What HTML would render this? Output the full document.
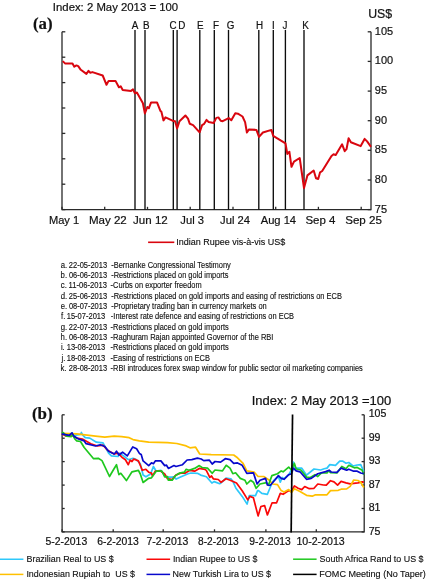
<!DOCTYPE html>
<html><head><meta charset="utf-8"><title>Figure</title>
<style>
html,body{margin:0;padding:0;background:#fff;}
body{width:427px;height:580px;overflow:hidden;font-family:"Liberation Sans",sans-serif;}
svg{display:block;will-change:transform;}
text{font-family:"Liberation Sans",sans-serif;fill:#111;stroke:#111;stroke-width:.2px;}
.n{stroke-width:.14px;}
.ser{font-family:"Liberation Serif",serif;font-weight:bold;}
</style></head><body>
<svg width="427" height="580" viewBox="0 0 427 580">
<rect width="427" height="580" fill="#fff"/>

<text transform="translate(52.85,10.90) scale(0.9794,1)" font-size="11.6" xml:space="preserve">Index: 2 May 2013 = 100</text>
<text transform="translate(368.16,17.80) scale(1.0282,1)" font-size="12.0" xml:space="preserve">US$</text>
<text class="ser" transform="translate(32.89,28.80) scale(1.0513,1)" font-size="16" xml:space="preserve">(a)</text>
<g stroke="#2a2a2a" stroke-width="1.3" fill="none">
<path d="M62.0,31.8 V209.6 H371.0 V31.8"/>
<path d="M62.0,31.8 h3.3"/>
<path d="M62.0,57.2 h3.3"/>
<path d="M62.0,82.6 h3.3"/>
<path d="M62.0,108.0 h3.3"/>
<path d="M62.0,133.4 h3.3"/>
<path d="M62.0,158.8 h3.3"/>
<path d="M62.0,184.2 h3.3"/>
<path d="M62.0,209.6 h3.3"/>
<path d="M371.0,31.8 h-3.3"/>
<path d="M371.0,61.4 h-3.3"/>
<path d="M371.0,91.1 h-3.3"/>
<path d="M371.0,120.7 h-3.3"/>
<path d="M371.0,150.3 h-3.3"/>
<path d="M371.0,180.0 h-3.3"/>
<path d="M371.0,209.6 h-3.3"/>
<path d="M62.0,209.6 v-2.8"/>
<path d="M104.7,209.6 v-2.8"/>
<path d="M147.5,209.6 v-2.8"/>
<path d="M190.2,209.6 v-2.8"/>
<path d="M233.0,209.6 v-2.8"/>
<path d="M275.7,209.6 v-2.8"/>
<path d="M318.4,209.6 v-2.8"/>
<path d="M361.2,209.6 v-2.8"/>
</g>
<g stroke="#0c0c0c" stroke-width="1.35">
<path d="M135.0,29.9 V209.6"/>
<path d="M145.0,29.9 V209.6"/>
<path d="M173.3,29.9 V209.6"/>
<path d="M177.1,29.9 V209.6"/>
<path d="M199.8,29.9 V209.6"/>
<path d="M214.3,29.9 V209.6"/>
<path d="M228.5,29.9 V209.6"/>
<path d="M258.8,29.9 V209.6"/>
<path d="M273.3,29.9 V209.6"/>
<path d="M285.4,29.9 V209.6"/>
<path d="M304.0,29.9 V209.6"/>
</g>
<text transform="translate(131.66,28.60) scale(0.9300,1)" font-size="10.6" xml:space="preserve">A</text>
<text transform="translate(143.11,28.60) scale(0.9300,1)" font-size="10.6" xml:space="preserve">B</text>
<text transform="translate(169.38,28.60) scale(0.9300,1)" font-size="10.6" xml:space="preserve">C</text>
<text transform="translate(178.16,28.60) scale(0.9300,1)" font-size="10.6" xml:space="preserve">D</text>
<text transform="translate(197.06,28.60) scale(0.9300,1)" font-size="10.6" xml:space="preserve">E</text>
<text transform="translate(212.88,28.60) scale(0.9300,1)" font-size="10.6" xml:space="preserve">F</text>
<text transform="translate(226.63,28.60) scale(0.9300,1)" font-size="10.6" xml:space="preserve">G</text>
<text transform="translate(256.03,28.60) scale(0.9300,1)" font-size="10.6" xml:space="preserve">H</text>
<text transform="translate(271.88,28.60) scale(0.9300,1)" font-size="10.6" xml:space="preserve">I</text>
<text transform="translate(282.53,28.60) scale(0.9300,1)" font-size="10.6" xml:space="preserve">J</text>
<text transform="translate(302.31,28.60) scale(0.9300,1)" font-size="10.6" xml:space="preserve">K</text>
<polyline points="62.7,61.1 65.3,63.6 72.5,63.6 74.3,66.7 76.4,65.4 78.2,66.2 80.8,69.8 86.4,73.9 88.5,70.9 90.3,72.7 92.4,72.1 102.7,75.5 106.5,84.8 108.6,80.9 115.5,80.9 118.9,87.3 120.7,86.3 122.7,89.9 131.0,90.9 133.0,89.4 134.9,93.3 136.9,92.5 142.9,103.2 144.9,113.5 147.3,107.0 148.8,108.3 151.1,102.4 157.0,102.4 160.4,110.9 161.4,111.7 163.5,120.4 165.5,117.4 172.5,120.7 175.1,121.2 177.1,128.4 179.5,121.2 185.4,115.5 188.0,118.6 189.8,123.8 193.1,125.1 199.6,132.3 202.1,125.1 204.2,123.8 206.5,119.9 208.6,122.0 213.7,123.0 216.3,117.9 218.4,117.4 220.7,120.7 222.7,121.2 228.7,118.1 231.3,120.3 235.3,113.2 237.9,113.7 242.5,116.5 245.1,122.2 246.9,132.5 249.0,129.4 256.4,129.9 259.0,136.9 262.9,132.5 271.4,129.9 273.2,135.9 285.5,143.3 287.3,153.9 289.4,151.8 291.5,166.8 294.0,161.6 299.7,158.0 304.0,188.0 307.4,175.4 313.7,170.5 316.0,178.3 318.2,179.0 320.1,172.3 322.2,171.0 331.5,156.0 333.6,154.3 335.7,155.1 342.1,144.3 344.7,151.2 346.5,149.2 348.6,138.3 350.9,142.2 360.7,146.1 364.6,138.9 367.1,141.4 371.0,146.8" fill="none" stroke="#d9060f" stroke-width="2" stroke-linejoin="round"/>
<text transform="translate(374.8,34.70) scale(0.955,1)" font-size="11.5">105</text>
<text transform="translate(374.8,64.33) scale(0.955,1)" font-size="11.5">100</text>
<text transform="translate(374.8,93.97) scale(0.955,1)" font-size="11.5">95</text>
<text transform="translate(374.8,123.60) scale(0.955,1)" font-size="11.5">90</text>
<text transform="translate(374.8,153.23) scale(0.955,1)" font-size="11.5">85</text>
<text transform="translate(374.8,182.87) scale(0.955,1)" font-size="11.5">80</text>
<text transform="translate(374.8,212.50) scale(0.955,1)" font-size="11.5">75</text>
<text transform="translate(48.89,224.10) scale(0.9571,1)" font-size="11.6" xml:space="preserve">May 1</text>
<text transform="translate(88.95,224.10) scale(0.9941,1)" font-size="11.6" xml:space="preserve">May 22</text>
<text transform="translate(133.04,224.10) scale(0.9976,1)" font-size="11.6" xml:space="preserve">Jun 12</text>
<text transform="translate(180.34,224.10) scale(0.9644,1)" font-size="11.6" xml:space="preserve">Jul 3</text>
<text transform="translate(220.04,224.10) scale(0.9684,1)" font-size="11.6" xml:space="preserve">Jul 24</text>
<text transform="translate(260.68,224.10) scale(0.9637,1)" font-size="11.6" xml:space="preserve">Aug 14</text>
<text transform="translate(305.39,224.10) scale(0.9903,1)" font-size="11.6" xml:space="preserve">Sep 4</text>
<text transform="translate(345.19,224.10) scale(1.0001,1)" font-size="11.6" xml:space="preserve">Sep 25</text>
<path d="M148.1,242.3 H174.3" stroke="#d9060f" stroke-width="1.6"/>
<text class="n" transform="translate(176.27,245.20) scale(0.9678,1)" font-size="9.3" xml:space="preserve">Indian Rupee vis-à-vis US$</text>
<text class="n" transform="translate(60.77,267.80) scale(0.8000,1)" font-size="9.7" xml:space="preserve">a.</text>
<text class="n" transform="translate(68.83,267.80) scale(0.7716,1)" font-size="9.7" xml:space="preserve">22-05-2013</text>
<text class="n" transform="translate(111.17,267.80) scale(0.7706,1)" font-size="9.7" xml:space="preserve">-Bernanke Congressional Testimony</text>
<text class="n" transform="translate(60.60,278.12) scale(0.8000,1)" font-size="9.7" xml:space="preserve">b.</text>
<text class="n" transform="translate(68.92,278.12) scale(0.7697,1)" font-size="9.7" xml:space="preserve">06-06-2013</text>
<text class="n" transform="translate(111.17,278.12) scale(0.7626,1)" font-size="9.7" xml:space="preserve">-Restrictions placed on gold imports</text>
<text class="n" transform="translate(60.77,288.44) scale(0.8000,1)" font-size="9.7" xml:space="preserve">c.</text>
<text class="n" transform="translate(68.62,288.44) scale(0.7875,1)" font-size="9.7" xml:space="preserve">11-06-2013</text>
<text class="n" transform="translate(110.57,288.44) scale(0.7647,1)" font-size="9.7" xml:space="preserve">-Curbs on exporter freedom</text>
<text class="n" transform="translate(60.77,298.76) scale(0.8000,1)" font-size="9.7" xml:space="preserve">d.</text>
<text class="n" transform="translate(68.83,298.76) scale(0.7716,1)" font-size="9.7" xml:space="preserve">25-06-2013</text>
<text class="n" transform="translate(111.17,298.76) scale(0.7672,1)" font-size="9.7" xml:space="preserve">-Restrictions placed on gold imports and easing of restrictions on ECB</text>
<text class="n" transform="translate(60.77,309.08) scale(0.8000,1)" font-size="9.7" xml:space="preserve">e.</text>
<text class="n" transform="translate(68.92,309.08) scale(0.7697,1)" font-size="9.7" xml:space="preserve">08-07-2013</text>
<text class="n" transform="translate(111.17,309.08) scale(0.7676,1)" font-size="9.7" xml:space="preserve">-Proprietary trading ban in currency markets on</text>
<text class="n" transform="translate(60.99,319.40) scale(0.8000,1)" font-size="9.7" xml:space="preserve">f.</text>
<text class="n" transform="translate(66.73,319.40) scale(0.7756,1)" font-size="9.7" xml:space="preserve">15-07-2013</text>
<text class="n" transform="translate(110.87,319.40) scale(0.7670,1)" font-size="9.7" xml:space="preserve">-Interest rate defence and easing of restrictions on ECB</text>
<text class="n" transform="translate(60.77,329.72) scale(0.8000,1)" font-size="9.7" xml:space="preserve">g.</text>
<text class="n" transform="translate(68.83,329.72) scale(0.7716,1)" font-size="9.7" xml:space="preserve">22-07-2013</text>
<text class="n" transform="translate(110.57,329.72) scale(0.7665,1)" font-size="9.7" xml:space="preserve">-Restrictions placed on gold imports</text>
<text class="n" transform="translate(60.57,340.04) scale(0.8000,1)" font-size="9.7" xml:space="preserve">h.</text>
<text class="n" transform="translate(68.92,340.04) scale(0.7697,1)" font-size="9.7" xml:space="preserve">06-08-2013</text>
<text class="n" transform="translate(110.57,340.04) scale(0.7742,1)" font-size="9.7" xml:space="preserve">-Raghuram Rajan appointed Governor of the RBI</text>
<text class="n" transform="translate(60.89,350.36) scale(0.8000,1)" font-size="9.7" xml:space="preserve">i.</text>
<text class="n" transform="translate(66.73,350.36) scale(0.7756,1)" font-size="9.7" xml:space="preserve">13-08-2013</text>
<text class="n" transform="translate(110.57,350.36) scale(0.7665,1)" font-size="9.7" xml:space="preserve">-Restrictions placed on gold imports</text>
<text class="n" transform="translate(61.60,360.68) scale(0.8000,1)" font-size="9.7" xml:space="preserve">j.</text>
<text class="n" transform="translate(66.73,360.68) scale(0.7756,1)" font-size="9.7" xml:space="preserve">18-08-2013</text>
<text class="n" transform="translate(110.57,360.68) scale(0.7691,1)" font-size="9.7" xml:space="preserve">-Easing of restrictions on ECB</text>
<text class="n" transform="translate(60.59,371.00) scale(0.8000,1)" font-size="9.7" xml:space="preserve">k.</text>
<text class="n" transform="translate(68.83,371.00) scale(0.7716,1)" font-size="9.7" xml:space="preserve">28-08-2013</text>
<text class="n" transform="translate(110.57,371.00) scale(0.7656,1)" font-size="9.7" xml:space="preserve">-RBI introduces forex swap window for public sector oil marketing companies</text>
<text transform="translate(251.71,404.60) scale(1.0813,1)" font-size="12.0" xml:space="preserve">Index: 2 May 2013 =100</text>
<text class="ser" transform="translate(31.89,419.20) scale(1.0600,1)" font-size="16" xml:space="preserve">(b)</text>
<g stroke="#2a2a2a" stroke-width="1.3" fill="none">
<path d="M62.1,414.8 V531.9 H364.2 V414.8"/>
<path d="M62.1,414.8 h2.6"/>
<path d="M364.2,414.8 h-2.6"/>
<path d="M62.1,438.2 h2.6"/>
<path d="M364.2,438.2 h-2.6"/>
<path d="M62.1,461.6 h2.6"/>
<path d="M364.2,461.6 h-2.6"/>
<path d="M62.1,485.1 h2.6"/>
<path d="M364.2,485.1 h-2.6"/>
<path d="M62.1,508.5 h2.6"/>
<path d="M364.2,508.5 h-2.6"/>
<path d="M62.1,531.9 h2.6"/>
<path d="M364.2,531.9 h-2.6"/>
<path d="M62.1,531.9 v-2.6"/>
<path d="M113.2,531.9 v-2.6"/>
<path d="M163.2,531.9 v-2.6"/>
<path d="M214.5,531.9 v-2.6"/>
<path d="M265.9,531.9 v-2.6"/>
<path d="M316.3,531.9 v-2.6"/>
</g>
<polyline points="61.7,433.4 69.2,435.3 72.0,432.9 73.9,435.3 80.5,434.4 81.4,432.5 82.4,434.7 85.2,437.7 89.8,438.1 96.4,442.2 103.0,442.8 108.6,453.1 111.4,455.9 118.0,456.5 119.8,453.1 123.6,455.9 128.3,459.7 133.0,458.3 135.6,459.0 140.3,463.7 143.1,475.0 145.9,476.8 150.6,474.0 153.4,466.5 156.2,471.2 160.9,470.3 162.8,473.0 165.6,476.8 171.2,477.2 174.0,476.8 176.2,479.1 181.1,476.8 188.1,473.7 190.9,473.0 197.9,473.4 200.7,475.1 206.4,476.8 211.9,483.0 214.1,481.6 219.7,483.7 222.5,481.6 226.0,478.1 230.9,478.8 233.0,481.6 235.8,487.9 242.2,496.4 247.1,504.1 249.2,495.7 255.5,495.7 257.6,490.7 258.5,490.6 261.8,493.4 267.4,494.3 271.2,485.0 273.7,480.3 278.4,476.5 280.3,482.2 282.2,477.5 284.0,479.0 288.7,474.7 291.5,470.0 293.4,462.1 295.3,468.1 301.8,468.1 306.5,475.2 314.0,469.0 320.6,470.0 324.2,468.8 327.0,468.1 329.8,464.6 335.5,465.3 339.7,461.1 342.5,461.1 346.0,463.2 348.8,462.5 353.0,466.0 357.2,465.0 360.7,464.6 363.8,471.6" fill="none" stroke="#2ec8fa" stroke-width="1.7" stroke-linejoin="round"/>
<polyline points="61.7,433.8 66.4,436.2 72.0,435.3 76.7,438.1 82.4,439.0 90.8,443.7 97.3,446.0 103.0,445.2 107.6,450.3 114.2,454.0 118.0,453.1 122.6,457.8 125.4,459.7 128.3,464.7 130.1,460.2 132.0,461.5 133.7,459.0 138.4,460.9 141.2,467.5 142.2,470.3 145.9,469.3 148.7,472.2 151.5,473.1 152.5,475.9 155.3,471.2 160.9,471.2 164.7,474.0 167.5,478.7 172.2,479.6 175.9,475.0 180.6,473.1 185.3,473.1 190.0,470.3 194.6,471.2 199.3,468.4 204.9,469.3 206.3,470.4 209.8,477.4 211.5,476.0 213.3,478.8 218.3,479.5 221.1,482.3 226.0,478.8 230.2,480.2 236.5,483.0 242.2,490.7 247.8,499.9 249.9,496.4 253.4,497.8 258.1,515.9 260.9,506.5 264.6,505.6 267.4,514.9 272.1,502.8 276.6,502.8 280.3,493.4 283.1,494.3 288.7,490.6 291.5,491.5 294.4,485.9 298.1,488.3 301.8,489.6 304.7,486.5 309.3,488.7 314.0,488.3 317.8,484.0 323.4,485.0 326.3,485.2 330.5,480.7 334.0,481.9 337.6,485.2 341.1,481.4 346.0,482.9 350.2,483.8 353.7,483.3 357.9,482.9 362.2,481.9 363.8,482.2" fill="none" stroke="#fa0808" stroke-width="1.7" stroke-linejoin="round"/>
<polyline points="61.7,433.4 76.7,433.8 95.5,436.2 104.8,437.2 114.2,436.2 121.7,436.6 129.2,437.7 133.0,439.6 139.4,440.9 148.7,442.2 167.5,442.7 176.8,443.5 186.2,445.9 190.0,447.8 195.6,447.2 199.7,454.0 211.2,454.6 233.7,455.0 237.5,457.8 243.1,463.4 246.8,470.9 254.3,472.2 258.1,476.5 263.7,476.5 269.3,480.3 272.8,484.0 277.5,484.6 281.2,490.6 284.0,492.1 288.7,489.6 291.5,492.5 294.4,488.7 300.0,491.5 306.5,495.3 312.2,496.2 315.0,494.9 327.0,494.8 330.5,490.6 338.3,490.3 341.1,489.2 346.7,488.9 350.2,486.4 353.7,480.0 357.9,480.5 360.7,482.2 363.8,487.5" fill="none" stroke="#ffc000" stroke-width="1.7" stroke-linejoin="round"/>
<polyline points="61.7,432.9 63.2,432.5 66.4,436.2 71.1,436.6 72.6,434.7 74.9,439.0 76.7,440.9 80.5,441.5 84.2,447.5 93.6,458.7 98.3,458.3 102.0,460.6 109.5,476.5 113.3,470.0 116.5,464.7 118.9,474.6 120.8,473.3 126.4,480.6 132.0,471.8 138.4,470.3 140.3,474.0 143.1,482.5 148.7,478.3 151.5,477.8 156.2,471.2 161.9,471.2 164.7,476.8 167.5,476.5 168.4,480.2 172.2,480.2 175.0,475.9 179.6,473.1 184.3,472.2 186.2,469.3 189.0,470.3 194.6,468.4 199.3,465.6 202.1,467.5 207.5,468.1 212.2,473.3 215.0,470.0 222.5,470.9 226.2,465.3 230.0,468.1 232.8,473.7 235.6,472.8 240.3,478.4 245.0,480.3 246.8,484.0 250.6,480.3 253.4,482.2 256.2,488.3 260.0,484.0 266.5,482.7 268.4,485.3 271.9,475.6 277.5,473.7 281.2,470.9 283.1,471.8 288.7,467.2 291.5,470.0 294.4,463.4 296.2,469.0 300.9,470.0 306.5,477.1 310.3,477.5 315.0,474.7 317.8,476.5 321.5,472.8 327.0,473.0 328.4,470.9 330.5,472.6 336.9,473.0 341.8,466.4 346.0,468.8 348.8,465.3 354.4,467.8 357.2,467.4 362.2,470.2 363.8,474.8" fill="none" stroke="#1ec81e" stroke-width="1.7" stroke-linejoin="round"/>
<polyline points="61.7,433.8 69.2,435.3 72.0,432.9 73.9,436.2 78.6,439.0 84.2,440.9 86.1,443.7 95.5,446.0 100.2,444.7 104.8,446.5 108.6,451.2 114.2,454.0 116.5,451.2 118.9,455.0 122.6,452.2 127.3,455.9 132.8,446.9 136.6,448.7 139.4,453.4 141.2,454.4 143.1,460.9 148.7,465.6 151.5,462.8 153.4,463.7 155.3,460.9 160.9,460.9 164.7,465.6 166.5,465.2 168.4,468.4 174.0,465.6 175.9,466.5 182.5,464.7 187.1,460.0 191.8,459.6 197.4,458.1 201.2,459.0 203.7,460.6 209.4,460.2 212.2,464.0 215.0,461.5 220.6,462.1 225.3,458.7 230.0,459.7 233.7,463.4 237.5,462.9 242.2,465.3 246.8,473.3 253.4,472.8 257.1,484.0 260.0,480.3 265.6,478.4 267.4,485.0 270.3,485.3 274.7,480.3 278.4,475.6 281.2,478.4 284.0,479.3 288.7,474.7 291.5,473.7 293.4,468.1 296.2,470.9 300.0,471.8 306.5,479.3 311.2,478.4 317.8,473.7 325.6,471.6 329.1,470.2 331.2,472.0 336.9,472.3 341.1,468.1 346.7,470.2 348.8,469.2 353.7,471.2 357.2,471.2 360.7,473.0 363.8,473.7" fill="none" stroke="#0808cc" stroke-width="1.7" stroke-linejoin="round"/>
<path d="M292.55,414.6 L291.15,532.5" stroke="#000" stroke-width="1.7"/>
<text transform="translate(368.7,417.20) scale(1.02,1)" font-size="10.4">105</text>
<text transform="translate(368.7,440.60) scale(1.02,1)" font-size="10.4">99</text>
<text transform="translate(368.7,464.00) scale(1.02,1)" font-size="10.4">93</text>
<text transform="translate(368.7,487.50) scale(1.02,1)" font-size="10.4">87</text>
<text transform="translate(368.7,510.80) scale(1.02,1)" font-size="10.4">81</text>
<text transform="translate(368.7,534.60) scale(1.02,1)" font-size="10.4">75</text>
<text transform="translate(45.48,544.70) scale(0.9843,1)" font-size="10.6" xml:space="preserve">5-2-2013</text>
<text transform="translate(97.28,544.70) scale(0.9796,1)" font-size="10.6" xml:space="preserve">6-2-2013</text>
<text transform="translate(146.48,544.70) scale(0.9892,1)" font-size="10.6" xml:space="preserve">7-2-2013</text>
<text transform="translate(198.07,544.70) scale(0.9607,1)" font-size="10.6" xml:space="preserve">8-2-2013</text>
<text transform="translate(249.33,544.70) scale(0.9738,1)" font-size="10.6" xml:space="preserve">9-2-2013</text>
<text transform="translate(296.39,544.70) scale(1.0008,1)" font-size="10.6" xml:space="preserve">10-2-2013</text>
<path d="M0,559.25 H23.4" stroke="#2ec8fa" stroke-width="1.5"/>
<text class="n" transform="translate(26.47,562.20) scale(0.9207,1)" font-size="9.7" xml:space="preserve">Brazilian Real to US $</text>
<path d="M0,574.4 H23.4" stroke="#ffc000" stroke-width="1.5"/>
<text class="n" transform="translate(26.38,577.20) scale(0.9158,1)" font-size="9.7" xml:space="preserve">Indonesian Rupiah to  US $</text>
<path d="M146.5,559.25 H170.1" stroke="#fa0808" stroke-width="1.5"/>
<text class="n" transform="translate(172.88,562.20) scale(0.9136,1)" font-size="9.7" xml:space="preserve">Indian Rupee to US $</text>
<path d="M146.5,574.4 H170.1" stroke="#0808cc" stroke-width="1.5"/>
<text class="n" transform="translate(172.57,576.90) scale(0.9196,1)" font-size="9.7" xml:space="preserve">New Turkish Lira to US $</text>
<path d="M293.1,559.2 H316.6" stroke="#1ec81e" stroke-width="1.5"/>
<text class="n" transform="translate(319.61,561.90) scale(0.9195,1)" font-size="9.7" xml:space="preserve">South Africa Rand to US $</text>
<path d="M293.1,574.4 H316.6" stroke="#000" stroke-width="1.5"/>
<text class="n" transform="translate(319.26,576.90) scale(0.9351,1)" font-size="9.7" xml:space="preserve">FOMC Meeting (No Taper)</text>
</svg></body></html>
